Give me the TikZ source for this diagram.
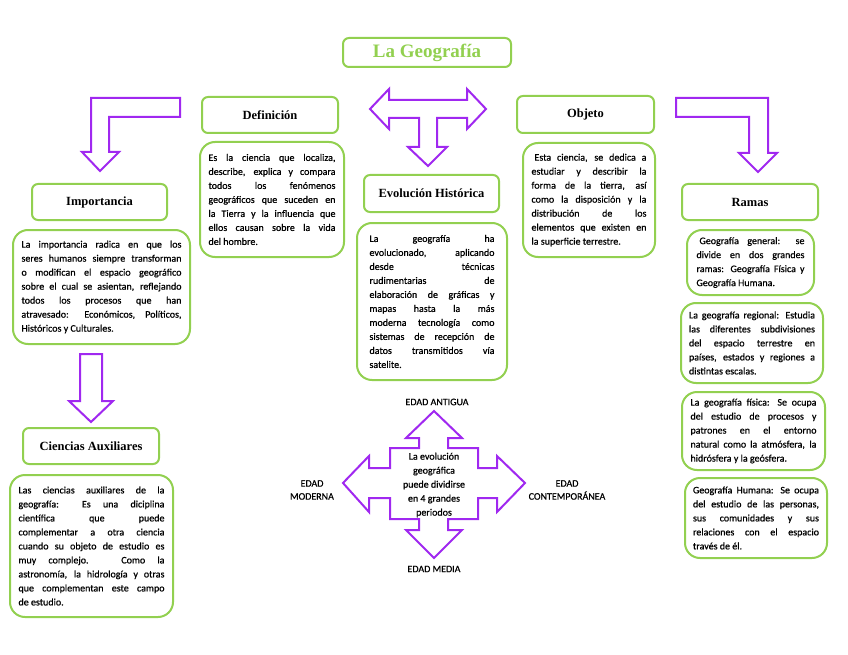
\documentclass[tikz,border=0pt]{standalone}
\usepackage{fontspec}
\setmainfont{Liberation Serif}
\newfontfamily\bodyfont[FakeBold=0.6]{Carlito}
\definecolor{gbord}{RGB}{146,208,80}
\definecolor{purp}{RGB}{160,40,240}
\tikzset{
  hdr/.style={draw=gbord, line width=2pt, rounded corners=6pt, inner sep=0pt, font=\bfseries\fontsize{12.5}{14}\selectfont, align=center},
  tbox/.style={draw=gbord, line width=2pt, rounded corners=15pt, inner sep=0pt},
  barrow/.style={draw=purp, line width=2pt, line join=miter, fill=white},
  lbl/.style={font=\bodyfont\fontsize{10}{13}\selectfont, align=center, inner sep=0pt}
}
\newcommand\gbox[7]{\node[#6, minimum width={(#4)-(#2)}, minimum height={(#5)-(#3)}] (#1) at ({((#2)+(#4))/2},{((#3)+(#5))/2}) {#7};}
\newcommand\tx[2]{\parbox{#1pt}{\bodyfont\fontsize{10}{14}\selectfont #2}}
\begin{document}
\begin{tikzpicture}[x=1pt,y=-1pt]
\useasboundingbox[fill=white] (0,0) rectangle (848,655);

% title
\gbox{title}{343}{38}{511}{67}{hdr}{\textcolor{gbord}{\fontsize{19}{20}\selectfont La Geografía}}

% block arrows
\draw[barrow] (180,98) -- (91,98) -- (91,152) -- (82,152) -- (100,171) -- (119,152) -- (109,152) -- (109,117) -- (180,117) -- cycle;
\draw[barrow] (676,98) -- (768,98) -- (768,153) -- (777,153) -- (758,172) -- (739,153) -- (749,153) -- (749,117) -- (676,117) -- cycle;
\draw[barrow] (370,109) -- (389,89) -- (389,100) -- (467,100) -- (467,89) -- (486,109) -- (467,129) -- (467,118) -- (437,118) -- (437,147) -- (447,147) -- (428,166) -- (408,147) -- (419,147) -- (419,118) -- (389,118) -- (389,129) -- cycle;
\draw[barrow] (80,354) -- (102,354) -- (102,401) -- (113,401) -- (91,422) -- (69,401) -- (80,401) -- cycle;
\draw[barrow] (434,411) -- (462,438) -- (448,438) -- (448,448) -- (478,448) -- (478,468) -- (497,468) -- (497,456) -- (525,483) -- (497,512) -- (497,498) -- (478,498) -- (478,519) -- (448,519) -- (448,530) -- (462,530) -- (434,558) -- (406,530) -- (419,530) -- (419,519) -- (390,519) -- (390,498) -- (369,498) -- (369,512) -- (343,483) -- (369,456) -- (369,468) -- (390,468) -- (390,448) -- (419,448) -- (419,438) -- (406,438) -- cycle;

% headers
\gbox{imph}{32}{184}{167}{220}{hdr}{Importancia}
\gbox{defh}{202}{97}{338}{133}{hdr}{Definición}
\gbox{objh}{517}{96}{654}{133}{hdr}{Objeto}
\gbox{evoh}{364}{175}{499}{212}{hdr}{Evolución Histórica}
\gbox{ramh}{682}{184}{818}{220}{hdr}{Ramas}
\gbox{cienh}{23}{428}{159}{464}{hdr}{Ciencias Auxiliares}

% text boxes
\gbox{impt}{13}{230}{190}{344}{tbox}{\tx{160}{La importancia radica en que los\linebreak seres humanos siempre transforman\linebreak o modifican el espacio geográfico\linebreak sobre el cual se asientan, reflejando\linebreak todos los procesos que han\linebreak atravesado: Económicos, Políticos,\linebreak Históricos y Culturales.}}
\gbox{deft}{200}{142}{344}{257}{tbox}{\tx{127}{Es la ciencia que localiza,\linebreak describe, explica y compara\linebreak todos los fenómenos\linebreak geográficos que suceden en\linebreak la Tierra y la influencia que\linebreak ellos causan sobre la vida\linebreak del hombre.}}
\gbox{objt}{523}{143}{655}{257}{tbox}{\tx{115}{\hspace*{3pt}Esta ciencia, se dedica a\linebreak estudiar y describir la\linebreak forma de la tierra, así\linebreak como la disposición y la\linebreak distribución de los\linebreak elementos que existen en\linebreak la superficie terrestre.}}
\gbox{evot}{357}{223}{507}{380}{tbox}{\tx{125}{La geografía ha\linebreak evolucionado, aplicando\linebreak desde técnicas\linebreak rudimentarias de\linebreak elaboración de gráficas y\linebreak mapas hasta la más\linebreak moderna tecnología como\linebreak sistemas de recepción de\linebreak datos transmitidos vía\linebreak satelite.}}
\gbox{gen}{687}{230}{814}{295}{tbox}{\tx{108}{\hspace*{3pt}Geografía general: se\linebreak divide en dos grandes\linebreak ramas: Geografía Física y\linebreak Geografía Humana.}}
\gbox{reg}{681}{303}{823}{383}{tbox}{\tx{126}{La geografía regional: Estudia\linebreak las diferentes subdivisiones\linebreak del espacio terrestre en\linebreak países, estados y regiones a\linebreak distintas escalas.}}
\gbox{fis}{682}{392}{825}{470}{tbox}{\tx{126}{La geografía física: Se ocupa\linebreak del estudio de procesos y\linebreak patrones en el entorno\linebreak natural como la atmósfera, la\linebreak hidrósfera y la geósfera.}}
\gbox{hum}{685}{478}{827}{558}{tbox}{\tx{126}{Geografía Humana: Se ocupa\linebreak del estudio de las personas,\linebreak sus comunidades y sus\linebreak relaciones con el espacio\linebreak través de él.}}
\gbox{cient}{10}{475}{173}{617}{tbox}{\tx{146}{Las ciencias auxiliares de la\linebreak geografía: Es una diciplina\linebreak científica que puede\linebreak complementar a otra ciencia\linebreak cuando su objeto de estudio es\linebreak muy complejo. Como la\linebreak astronomía, la hidrología y otras\linebreak que complementan este campo\linebreak de estudio.}}

% cross labels
\node[lbl, font=\bodyfont\fontsize{10}{14}\selectfont] (centro) at (434,485) {La evolución\\geográfica\\puede dividirse\\en 4 grandes\\periodos};
\node[lbl] (antigua) at (437,402) {EDAD ANTIGUA};
\node[lbl] (media) at (434,569) {EDAD MEDIA};
\node[lbl] (moderna) at (312,490) {EDAD\\MODERNA};
\node[lbl] (contemp) at (567,490) {EDAD\\CONTEMPORÁNEA};
\end{tikzpicture}
\end{document}
